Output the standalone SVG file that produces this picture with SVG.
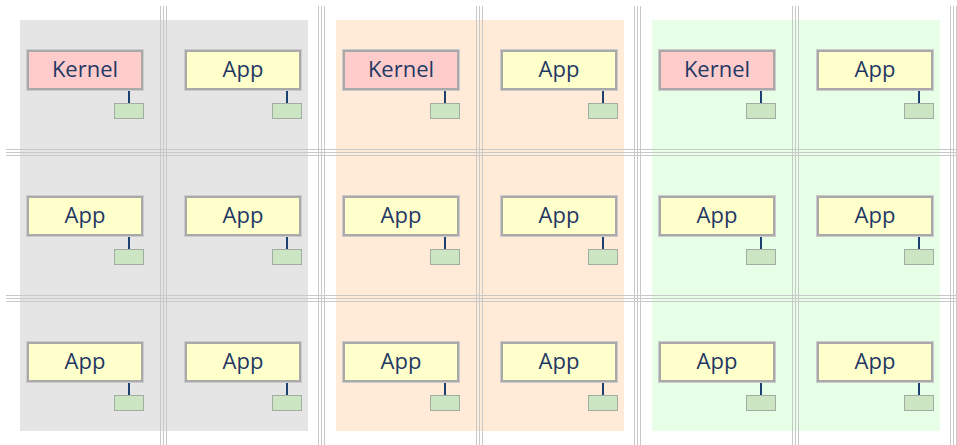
<svg xmlns="http://www.w3.org/2000/svg" width="957" height="445" viewBox="0 0 957 445">
<style>
.grid line{stroke:#c8c8c8;stroke-width:1}
.frame{fill:none;stroke:#cbcbcb;stroke-width:1}
.box{stroke:#a9a9a9;stroke-width:2}
.kernel use{fill:#ffcccc}
.app use{fill:#ffffcc}
.tab{fill:#cce6c4;stroke:#a3aca3;stroke-width:1}
.lbl{font-family:"Open Sans","Noto Sans",sans-serif;font-size:22px;fill:#1f3864;text-anchor:middle}
.conn line{stroke:#1c4070;stroke-width:2}
</style>
<rect width="957" height="445" fill="#ffffff"/>
<g id="backgrounds">
<rect x="20" y="20" width="288" height="411" fill="#e5e5e5"/>
<rect x="336" y="20" width="288" height="411" fill="#ffebd8"/>
<rect x="652" y="20" width="288" height="411" fill="#e6ffe6"/>
</g>
<g class="grid" id="grid">
<line x1="160.5" y1="6" x2="160.5" y2="445"/><line x1="163.5" y1="6" x2="163.5" y2="445"/><line x1="166.5" y1="6" x2="166.5" y2="445"/>
<line x1="318.5" y1="6" x2="318.5" y2="445"/><line x1="321.5" y1="6" x2="321.5" y2="445"/><line x1="324.5" y1="6" x2="324.5" y2="445"/>
<line x1="476.5" y1="6" x2="476.5" y2="445"/><line x1="479.5" y1="6" x2="479.5" y2="445"/><line x1="482.5" y1="6" x2="482.5" y2="445"/>
<line x1="634.5" y1="6" x2="634.5" y2="445"/><line x1="637.5" y1="6" x2="637.5" y2="445"/><line x1="640.5" y1="6" x2="640.5" y2="445"/>
<line x1="792.5" y1="6" x2="792.5" y2="445"/><line x1="795.5" y1="6" x2="795.5" y2="445"/><line x1="798.5" y1="6" x2="798.5" y2="445"/>
<line x1="950.5" y1="6" x2="950.5" y2="445"/><line x1="953.5" y1="6" x2="953.5" y2="445"/><line x1="956.5" y1="6" x2="956.5" y2="445"/>
<line x1="6" y1="149.5" x2="957" y2="149.5"/><line x1="6" y1="152.5" x2="957" y2="152.5"/><line x1="6" y1="155.5" x2="957" y2="155.5"/>
<line x1="6" y1="295.5" x2="957" y2="295.5"/><line x1="6" y1="298.5" x2="957" y2="298.5"/><line x1="6" y1="301.5" x2="957" y2="301.5"/>
</g>
<g class="conn" id="connectors">
<line x1="129" y1="91" x2="129" y2="103"/><line x1="287" y1="91" x2="287" y2="103"/><line x1="445" y1="91" x2="445" y2="103"/><line x1="603" y1="91" x2="603" y2="103"/><line x1="761" y1="91" x2="761" y2="103"/><line x1="919" y1="91" x2="919" y2="103"/>
<line x1="129" y1="237" x2="129" y2="249"/><line x1="287" y1="237" x2="287" y2="249"/><line x1="445" y1="237" x2="445" y2="249"/><line x1="603" y1="237" x2="603" y2="249"/><line x1="761" y1="237" x2="761" y2="249"/><line x1="919" y1="237" x2="919" y2="249"/>
<line x1="129" y1="383" x2="129" y2="395"/><line x1="287" y1="383" x2="287" y2="395"/><line x1="445" y1="383" x2="445" y2="395"/><line x1="603" y1="383" x2="603" y2="395"/><line x1="761" y1="383" x2="761" y2="395"/><line x1="919" y1="383" x2="919" y2="395"/>
</g>
<defs>
<g id="k"><rect class="frame" x="0.5" y="0.5" width="117" height="41"/><rect class="box" x="2" y="2" width="114" height="38"/><rect class="tab" x="88.5" y="54.5" width="29" height="15"/></g>
</defs>
<g id="n00" class="kernel" transform="translate(26,49)"><use href="#k"/><text class="lbl" x="59" y="27.5">Kernel</text></g>
<g id="n01" class="app" transform="translate(184,49)"><use href="#k"/><text class="lbl" x="59" y="27.5">App</text></g>
<g id="n02" class="kernel" transform="translate(342,49)"><use href="#k"/><text class="lbl" x="59" y="27.5">Kernel</text></g>
<g id="n03" class="app" transform="translate(500,49)"><use href="#k"/><text class="lbl" x="59" y="27.5">App</text></g>
<g id="n04" class="kernel" transform="translate(658,49)"><use href="#k"/><text class="lbl" x="59" y="27.5">Kernel</text></g>
<g id="n05" class="app" transform="translate(816,49)"><use href="#k"/><text class="lbl" x="59" y="27.5">App</text></g>
<g id="n10" class="app" transform="translate(26,195)"><use href="#k"/><text class="lbl" x="59" y="27.5">App</text></g>
<g id="n11" class="app" transform="translate(184,195)"><use href="#k"/><text class="lbl" x="59" y="27.5">App</text></g>
<g id="n12" class="app" transform="translate(342,195)"><use href="#k"/><text class="lbl" x="59" y="27.5">App</text></g>
<g id="n13" class="app" transform="translate(500,195)"><use href="#k"/><text class="lbl" x="59" y="27.5">App</text></g>
<g id="n14" class="app" transform="translate(658,195)"><use href="#k"/><text class="lbl" x="59" y="27.5">App</text></g>
<g id="n15" class="app" transform="translate(816,195)"><use href="#k"/><text class="lbl" x="59" y="27.5">App</text></g>
<g id="n20" class="app" transform="translate(26,341)"><use href="#k"/><text class="lbl" x="59" y="27.5">App</text></g>
<g id="n21" class="app" transform="translate(184,341)"><use href="#k"/><text class="lbl" x="59" y="27.5">App</text></g>
<g id="n22" class="app" transform="translate(342,341)"><use href="#k"/><text class="lbl" x="59" y="27.5">App</text></g>
<g id="n23" class="app" transform="translate(500,341)"><use href="#k"/><text class="lbl" x="59" y="27.5">App</text></g>
<g id="n24" class="app" transform="translate(658,341)"><use href="#k"/><text class="lbl" x="59" y="27.5">App</text></g>
<g id="n25" class="app" transform="translate(816,341)"><use href="#k"/><text class="lbl" x="59" y="27.5">App</text></g>
</svg>
